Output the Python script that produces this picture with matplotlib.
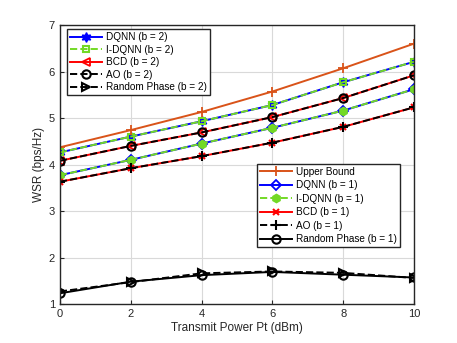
import matplotlib
matplotlib.use("Agg")
import matplotlib.pyplot as plt
import numpy as np

plt.rcParams['font.family'] = ['Liberation Sans', 'DejaVu Sans']

power = [0, 2, 4, 6, 8, 10]
upper_bound = [4.37, 4.74, 5.13, 5.57, 6.07, 6.60]
dqnn_b2 = [4.26, 4.60, 4.93, 5.28, 5.77, 6.21]
idqnn_b2 = [4.26, 4.60, 4.93, 5.28, 5.77, 6.21]
bcd_b2 = [4.08, 4.40, 4.69, 5.02, 5.43, 5.92]
ao_b2 = [4.08, 4.40, 4.69, 5.02, 5.43, 5.92]
rand_b2 = [1.27, 1.47, 1.66, 1.70, 1.67, 1.56]
dqnn_b1 = [3.77, 4.10, 4.45, 4.79, 5.16, 5.62]
idqnn_b1 = [3.77, 4.10, 4.45, 4.79, 5.16, 5.62]
bcd_b1 = [3.63, 3.92, 4.18, 4.47, 4.81, 5.23]
ao_b1 = [3.63, 3.92, 4.18, 4.47, 4.81, 5.23]
rand_b1 = [1.23, 1.48, 1.62, 1.69, 1.63, 1.57]

orange = (0.85, 0.325, 0.098)
green = (0.45, 0.85, 0.15)
blue = (0.0, 0.0, 1.0)
red = (1.0, 0.0, 0.0)

fig = plt.figure(figsize=(4.57, 3.43), dpi=100)
ax = fig.add_axes([0.131, 0.1137, 0.775, 0.8133])

lw = 1.4
ms = 6
# b=2
h_dq2, = ax.plot(power, dqnn_b2, '-', color=blue, lw=lw, marker=(6, 1, 0), ms=7, mfc=blue, mec=blue, label='DQNN (b = 2)')
h_idq2, = ax.plot(power, idqnn_b2, '--', color=green, lw=lw, marker='s', ms=5, mfc='none', mec=green, mew=1.5, label='I-DQNN (b = 2)')
h_bcd2, = ax.plot(power, bcd_b2, '-', color=red, lw=lw, marker='<', ms=ms, mfc='none', mec=red, mew=1.3, label='BCD (b = 2)')
h_ao2, = ax.plot(power, ao_b2, '--', color='k', lw=lw, marker='o', ms=ms, mfc='none', mec='k', mew=1.5, label='AO (b = 2)')
h_rp2, = ax.plot(power, rand_b2, '--', color='k', lw=lw, marker='>', ms=ms, mfc='none', mec='k', mew=1.5, label='Random Phase (b = 2)')
# b=1
h_ub, = ax.plot(power, upper_bound, '-', color=orange, lw=lw, marker='+', ms=7, mew=1.3, label='Upper Bound')
h_dq1, = ax.plot(power, dqnn_b1, '-', color=blue, lw=lw, marker='D', ms=5, mfc='none', mec=blue, mew=1.3, label='DQNN (b = 1)')
h_idq1, = ax.plot(power, idqnn_b1, '--', color=green, lw=lw, marker='h', ms=6, mfc=green, mec=green, label='I-DQNN (b = 1)')
h_bcd1, = ax.plot(power, bcd_b1, '-', color=red, lw=lw, marker='x', ms=5, mew=1.5, label='BCD (b = 1)')
h_ao1, = ax.plot(power, ao_b1, '--', color='k', lw=lw, marker='+', ms=7, mew=1.5, label='AO (b = 1)')
h_rp1, = ax.plot(power, rand_b1, '-', color='k', lw=lw, marker='o', ms=ms, mfc='none', mec='k', mew=1.5, label='Random Phase (b = 1)')

ax.set_xlim(0, 10)
ax.set_ylim(1, 7)
ax.set_xticks(power)
ax.set_yticks([1, 2, 3, 4, 5, 6, 7])
ax.grid(True, color=(0.85, 0.85, 0.85), lw=0.8)
ax.set_axisbelow(True)
ax.tick_params(direction='in', labelsize=8, length=3, colors=(0.15, 0.15, 0.15))
for s in ax.spines.values():
    s.set_color((0.15, 0.15, 0.15))
    s.set_linewidth(1.0)
ax.set_xlabel('Transmit Power Pt (dBm)', fontsize=8.5, color=(0.15, 0.15, 0.15), labelpad=2)
ax.set_ylabel('WSR (bps/Hz)', fontsize=8.5, color=(0.15, 0.15, 0.15), labelpad=3)

leg1 = ax.legend(handles=[h_dq2, h_idq2, h_bcd2, h_ao2, h_rp2], loc='upper left',
                 bbox_to_anchor=(0.02, 0.985), fontsize=7.2, frameon=True, fancybox=False,
                 edgecolor=(0.15, 0.15, 0.15), framealpha=1, handlelength=3.2,
                 borderpad=0.3, labelspacing=0.25, handletextpad=0.4, borderaxespad=0)
leg1.get_frame().set_linewidth(1.0)
ax.add_artist(leg1)
leg2 = ax.legend(handles=[h_ub, h_dq1, h_idq1, h_bcd1, h_ao1, h_rp1], loc='upper left',
                 bbox_to_anchor=(0.558, 0.503), fontsize=7.2, frameon=True, fancybox=False,
                 edgecolor=(0.15, 0.15, 0.15), framealpha=1, handlelength=3.2,
                 borderpad=0.3, labelspacing=0.35, handletextpad=0.4, borderaxespad=0)
leg2.get_frame().set_linewidth(1.0)

fig.savefig('out.png', dpi=100)
